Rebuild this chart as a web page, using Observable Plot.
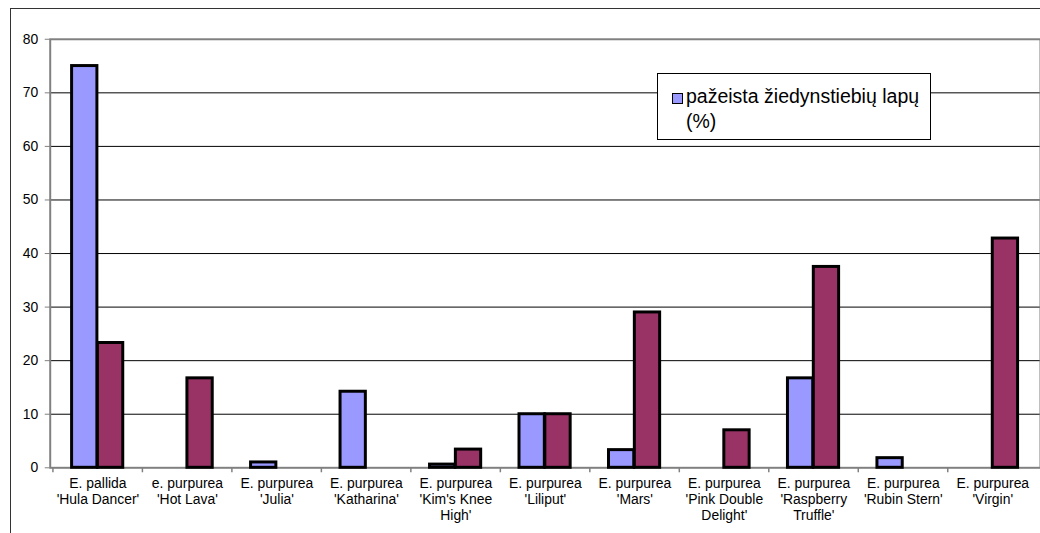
<!DOCTYPE html>
<html><head><meta charset="utf-8">
<script src="https://cdn.jsdelivr.net/npm/d3@7"></script>
<script src="https://cdn.jsdelivr.net/npm/@observablehq/plot@0.6"></script>
<style>
html,body{margin:0;padding:0;background:#fff;overflow:hidden;width:1040px;height:533px}
#frame{position:absolute;left:10px;top:8px;width:1100px;height:600px;border:1px solid #333;box-sizing:border-box}
#chart{position:absolute;left:0;top:0}
#chart svg{background:transparent;overflow:hidden}
#chart svg text{font-family:"Liberation Sans",Arial,sans-serif !important;font-size:14px !important}
#legend{position:absolute;left:657px;top:73px;width:274px;height:67px;border:1px solid #000;background:#fff;box-sizing:border-box;font-family:"Liberation Sans",Arial,sans-serif;font-size:19.5px;line-height:25px;padding:10px 0 0 28px;color:#000;white-space:nowrap}
#legend .sw{position:absolute;left:14px;top:19px;width:9px;height:9px;border:1.5px solid #000;background:#9999FF;box-sizing:content-box}
g[aria-label="y-axis"] line, g[aria-label="y-axis tick"] path{stroke:#808080}
</style></head>
<body>
<div id="frame"></div>
<div id="chart"></div>
<div id="legend"><span class="sw"></span>pažeista žiedynstiebių lapų<br>(%)</div>
<script>
const categories = [
  "E. pallida\n'Hula Dancer'",
  "e. purpurea\n'Hot Lava'",
  "E. purpurea\n'Julia'",
  "E. purpurea\n'Katharina'",
  "E. purpurea\n'Kim's Knee\nHigh'",
  "E. purpurea\n'Liliput'",
  "E. purpurea\n'Mars'",
  "E. purpurea\n'Pink Double\nDelight'",
  "E. purpurea\n'Raspberry\nTruffle'",
  "E. purpurea\n'Rubin Stern'",
  "E. purpurea\n'Virgin'"
];
const seriesBlue = [75, null, 1, 14.2, 0.6, 10, 3.3, null, 16.7, 1.8, null];
const seriesMaroon = [23.3, 16.7, null, null, 3.4, 10, 29, 7, 37.5, null, 42.8];
const yTicks = [0, 10, 20, 30, 40, 50, 60, 70, 80];
const gridTicks = [10, 20, 30, 40, 50, 60, 70];

const blueData = categories.map((c, i) => ({c, v: seriesBlue[i]})).filter(d => d.v != null);
const maroonData = categories.map((c, i) => ({c, v: seriesMaroon[i]})).filter(d => d.v != null);

const W = 1046, H = 533, mL = 50, mT = 39, mB = 63;
const band = (W - mL) / categories.length;

const chart = Plot.plot({
  width: W, height: H,
  marginLeft: mL, marginRight: 0, marginTop: mT, marginBottom: mB,
  style: {fontFamily: "'Liberation Sans', Arial, sans-serif", fontSize: "14px", color: "#000", background: "transparent"},
  x: {type: "band", domain: categories, padding: 0, axis: null},
  y: {domain: [0, 80], ticks: yTicks, tickSize: 5, tickPadding: 7, label: null, line: false},
  marks: [
    Plot.ruleY(gridTicks, {stroke: "#000", strokeWidth: 1}),
    Plot.frame({stroke: "#808080", strokeWidth: 2}),
    Plot.ruleX(categories, {x: d => d, dx: -band / 2, stroke: "#808080", strokeWidth: 1.5, insetTop: H - mT - mB, insetBottom: -5}),
    Plot.barY(blueData, {x: "c", y: "v", fill: "#9999FF", stroke: "#000", strokeWidth: 3, insetLeft: 19, insetRight: band - 45}),
    Plot.barY(maroonData, {x: "c", y: "v", fill: "#993366", stroke: "#000", strokeWidth: 3, insetLeft: 45, insetRight: band - 71}),
    Plot.text(categories, {x: d => d, text: d => d, frameAnchor: "bottom", lineAnchor: "top", dy: 9, fontSize: 14, lineHeight: 16/14, fill: "#000"})
  ]
});
document.getElementById("chart").appendChild(chart);
</script>
</body></html>
